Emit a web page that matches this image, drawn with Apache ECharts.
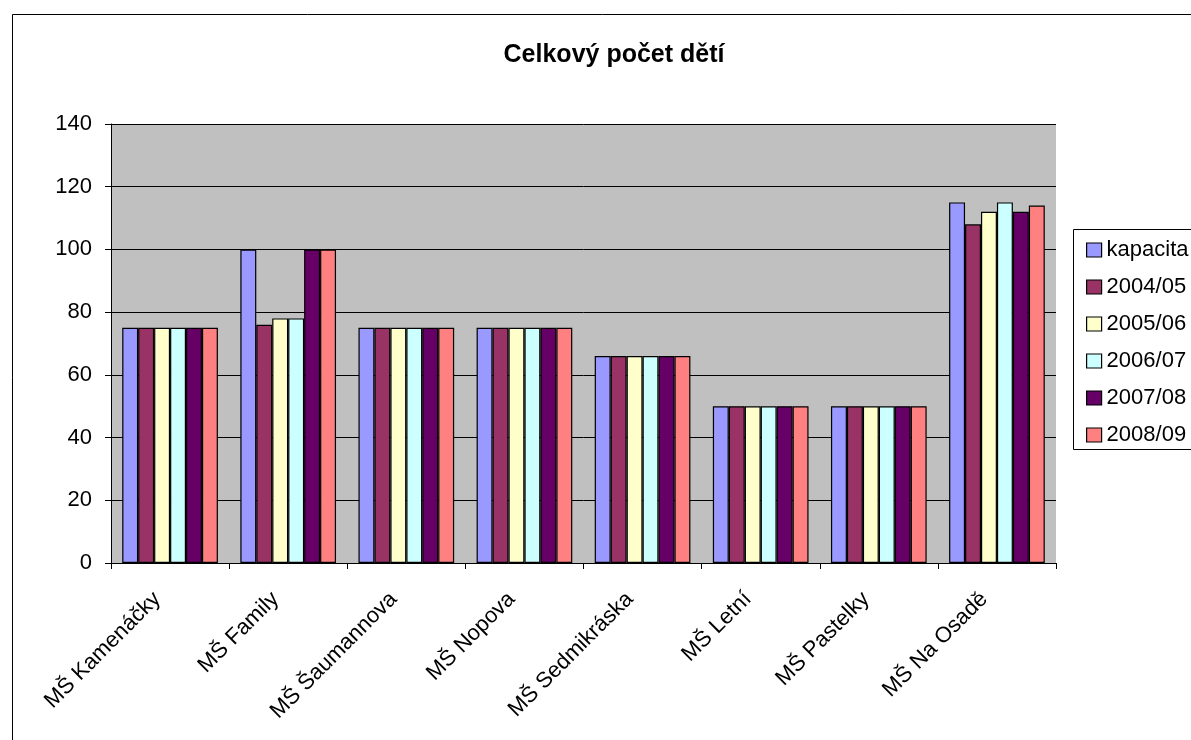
<!DOCTYPE html>
<html><head><meta charset="utf-8">
<script src="https://cdn.jsdelivr.net/npm/echarts@6/dist/echarts.min.js"></script>
<style>html,body{margin:0;padding:0;background:#fff}#c{width:1191px;height:740px}</style>
</head><body><div id="c"></div>
<script>
const categories = ["MŠ Kamenáčky","MŠ Family","MŠ Šaumannova","MŠ Nopova","MŠ Sedmikráska","MŠ Letní","MŠ Pastelky","MŠ Na Osadě"];
const seriesNames = ["kapacita","2004/05","2005/06","2006/07","2007/08","2008/09"];
const kapacita = [75,100,75,75,66,50,50,115];
const y2004 = [75,76,75,75,66,50,50,108];
const y2005 = [75,78,75,75,66,50,50,112];
const y2006 = [75,78,75,75,66,50,50,115];
const y2007 = [75,100,75,75,66,50,50,112];
const y2008 = [75,100,75,75,66,50,50,114];
const yTicks = [0,20,40,60,80,100,120,140];
const colors = ["#9999FF","#993366","#FFFFCC","#CCFFFF","#660066","#FF8080"];
const values = [kapacita,y2004,y2005,y2006,y2007,y2008];
const font = "Liberation Sans, Arial, sans-serif";
const chart = echarts.init(document.getElementById('c'));
chart.setOption({
  animation:false,
  backgroundColor:'#fff',
  title:{text:'Celkový počet dětí',left:609,top:38,textAlign:'center',textStyle:{fontFamily:font,fontSize:25,fontWeight:'bold',color:'#000'}},
  graphic:[
    {type:'rect',left:10,top:12,shape:{width:1300,height:900},style:{fill:'none',stroke:'#000',lineWidth:1},z:-1},
    {type:'rect',left:1073,top:229,shape:{width:200,height:220},style:{fill:'#fff',stroke:'#000',lineWidth:1},z:-1}
  ],
  legend:{orient:'vertical',left:1081,top:234,itemWidth:15,itemHeight:14,itemGap:15,icon:'rect',
    textStyle:{fontFamily:font,fontSize:22,color:'#000',padding:[0,0,0,0]},
    itemStyle:{borderColor:'#000',borderWidth:1.2},data:seriesNames},
  grid:{left:111,top:124,width:945,height:439,backgroundColor:'#C0C0C0',show:true,borderWidth:0},
  xAxis:{type:'category',data:categories,
    axisLine:{lineStyle:{color:'#000',width:1}},
    axisTick:{show:true,alignWithLabel:false,length:6,lineStyle:{color:'#000'}},
    axisLabel:{rotate:45,interval:0,margin:20,padding:[0,18,0,0],fontFamily:font,fontSize:22,color:'#000'}},
  yAxis:{type:'value',min:0,max:140,interval:20,
    axisLine:{show:true,lineStyle:{color:'#000'}},
    axisTick:{show:true,length:6,lineStyle:{color:'#000'}},
    splitLine:{show:true,lineStyle:{color:'#000',width:1}},
    axisLabel:{margin:19,fontFamily:font,fontSize:22,color:'#000',
      formatter:function(v){return yTicks.indexOf(v)>=0?String(v):'';}}},
  series: seriesNames.map((n,i)=>({name:n,type:'bar',data:values[i],barGap:'0%',barCategoryGap:'19%',
    itemStyle:{color:colors[i],borderColor:'#000',borderWidth:1.2}}))
});
</script></body></html>
